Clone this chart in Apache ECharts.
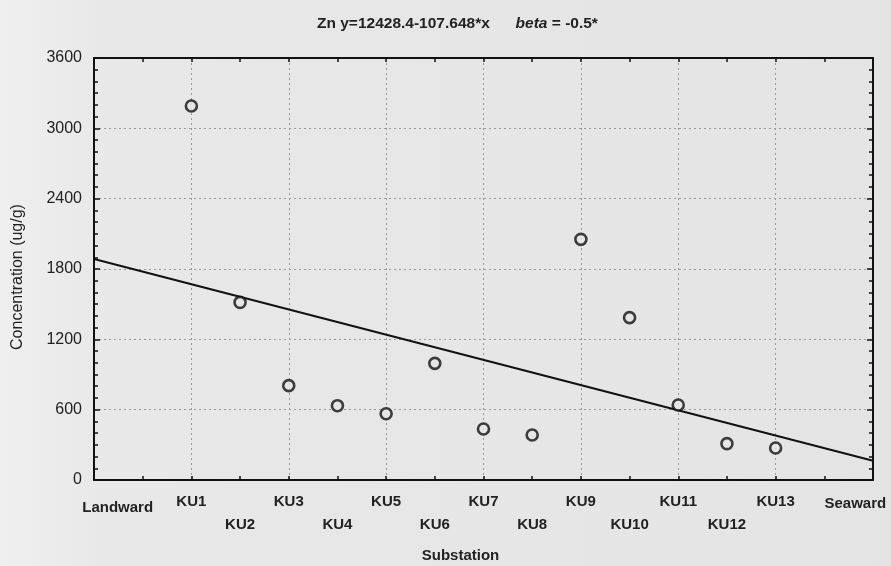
<!DOCTYPE html>
<html>
<head>
<meta charset="utf-8">
<script src="https://cdn.jsdelivr.net/npm/echarts@6/dist/echarts.min.js"></script>
<style>
html,body{margin:0;padding:0;background:#e6e6e6;}
#c{width:891px;height:566px;}
</style>
</head>
<body>
<div id="c"></div>
<script>
// station names along the transect (position index 0..14)
var stations = ['Landward','KU1','KU2','KU3','KU4','KU5','KU6','KU7','KU8','KU9','KU10','KU11','KU12','KU13','Seaward'];
// sampled substations (position index) and Zn concentration (ug/g)
var sampleX = [1,2,3,4,5,6,7,8,9,10,11,12,13];
var znValues = [3190,1515,805,634,565,995,435,384,2053,1385,640,310,273];
// regression line end points, as drawn
var trendX = [-1,15];
var trendY = [1885,165];
var yTicks = [0,600,1200,1800,2400,3000,3600];

var FONT = '"Liberation Sans", Arial, Helvetica, sans-serif';
var TXT = '#222';

var chart = echarts.init(document.getElementById('c'));
var scatterData = sampleX.map(function(x,i){return [x, znValues[i]];});
var trendData = trendX.map(function(x,i){return [x, trendY[i]];});

var axisLineStyle = {color:'#111', width:2};
var gridLine = {show:true, lineStyle:{color:'#9a9a9a', width:1, type:[2,3]}};

chart.setOption({
  backgroundColor: {type:'linear', x:0, y:0, x2:1, y2:0, colorStops:[{offset:0,color:'#efefef'},{offset:0.12,color:'#e8e8e8'},{offset:1,color:'#e4e4e4'}]},
  animation:false,
  title:{
    left:312, top:11,
    text:'{n|Zn y=12428.4-107.648*x}{s|      }{i|beta}{n| = -0.5*}',
    textStyle:{
      rich:{
        n:{fontFamily:FONT, fontSize:15.5, fontWeight:'bold', color:TXT},
        s:{fontFamily:FONT, fontSize:15.5, color:TXT},
        i:{fontFamily:FONT, fontSize:15.5, fontWeight:'bold', fontStyle:'italic', color:TXT}
      }
    }
  },
  grid:{left:94, right:18, top:58, bottom:86, containLabel:false, outerBoundsMode:'none'},
  xAxis:[
    {
      type:'value', position:'bottom', min:-1, max:15, interval:1,
      axisLine:{show:true, onZero:false, lineStyle:axisLineStyle},
      axisTick:{show:true, inside:true, length:4, lineStyle:{color:'#111', width:1.5}},
      splitLine:{show:false},
      name:'Substation', nameLocation:'middle', nameGap:68,
      nameTextStyle:{fontFamily:FONT, fontSize:15, fontWeight:'bold', color:TXT, padding:[0,46,0,0]},
      axisLabel:{
        show:true, margin:13, showMinLabel:true, showMaxLabel:true,
        formatter:function(v){
          if (v < 0 || v > 14) return '';
          var name = stations[v];
          if (v === 0) return '{L|' + name + '}';
          if (v === 14) return '{R|' + name + '}';
          return (v % 2 === 1) ? '{a|' + name + '}' : '{b|' + name + '}';
        },
        rich:{
          a:{fontFamily:FONT, fontSize:15, fontWeight:'bold', color:TXT, lineHeight:17},
          b:{fontFamily:FONT, fontSize:15, fontWeight:'bold', color:TXT, lineHeight:17, padding:[46,0,0,0]},
          L:{fontFamily:FONT, fontSize:15, fontWeight:'bold', color:TXT, lineHeight:17, padding:[12,50,0,0]},
          R:{fontFamily:FONT, fontSize:15, fontWeight:'bold', color:TXT, lineHeight:17, padding:[4,0,0,62]}
        }
      }
    },
    {
      type:'value', position:'top', min:-1, max:15, interval:2,
      axisLine:{show:true, onZero:false, lineStyle:axisLineStyle},
      axisTick:{show:true, inside:true, length:4, lineStyle:{color:'#111', width:1.5}},
      minorTick:{show:true, splitNumber:2, length:4, lineStyle:{color:'#111', width:1.5}},
      splitLine:gridLine,
      axisLabel:{show:false}
    }
  ],
  yAxis:[
    {
      type:'value', position:'left', min:0, max:3600, interval:600,
      axisLine:{show:true, onZero:false, lineStyle:axisLineStyle},
      axisTick:{show:true, inside:true, length:6, lineStyle:{color:'#111', width:1.5}},
      minorTick:{show:true, splitNumber:6, length:4, lineStyle:{color:'#111', width:1.5}},
      splitLine:gridLine,
      axisLabel:{
        margin:12, fontFamily:FONT, fontSize:16, color:TXT,
        formatter:function(v){ return yTicks.indexOf(v) >= 0 ? String(v) : ''; }
      },
      name:'Concentration (ug/g)', nameLocation:'middle', nameGap:68,
      nameTextStyle:{fontFamily:FONT, fontSize:16, color:TXT, padding:[0,16,0,0]}
    },
    {
      type:'value', position:'right', min:0, max:3600, interval:600,
      axisLine:{show:true, onZero:false, lineStyle:axisLineStyle},
      axisTick:{show:true, inside:true, length:6, lineStyle:{color:'#111', width:1.5}},
      minorTick:{show:true, splitNumber:6, length:4, lineStyle:{color:'#111', width:1.5}},
      splitLine:{show:false},
      axisLabel:{show:false}
    }
  ],
  series:[
    {
      type:'line', xAxisIndex:0, yAxisIndex:0, data:trendData,
      showSymbol:false, symbol:'none',
      lineStyle:{color:'#111', width:2}, z:3
    },
    {
      type:'scatter', xAxisIndex:0, yAxisIndex:0, data:scatterData,
      symbol:'circle', symbolSize:11,
      itemStyle:{color:'#e6e6e6', borderColor:'#111', borderWidth:2.6}, z:4
    }
  ]
});
</script>
</body>
</html>
